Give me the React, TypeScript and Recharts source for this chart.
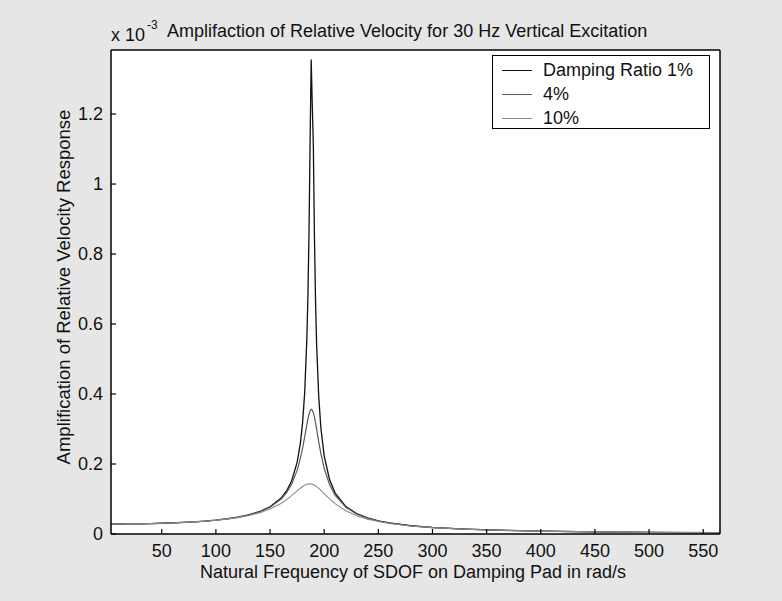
import { LineChart, Line, XAxis, YAxis, Legend, CartesianGrid } from "recharts"

// natural frequency of the SDOF, rad/s
const OMEGA = [
  3.14, 10, 20, 30, 40, 50, 60, 70, 80, 90, 100, 110, 120, 130, 140, 150, 160, 165, 170, 175,
  178, 180, 182, 184, 185, 186, 187, 188, 189, 190, 191, 192, 193, 195, 197, 200, 205, 210,
  220, 230, 240, 250, 260, 280, 300, 330, 360, 400, 450, 500, 565.5,
]

// amplification (x 10^-3) per damping ratio
const RATIO_1 = [
  0.0285, 0.0286, 0.0288, 0.0292, 0.0298, 0.0307, 0.0317, 0.0331, 0.0348, 0.0369, 0.0397,
  0.0432, 0.0479, 0.0544, 0.0636, 0.0777, 0.1018, 0.1216, 0.152, 0.2045, 0.2592, 0.316,
  0.4044, 0.5582, 0.6834, 0.8658, 1.122, 1.356, 1.225, 1.108, 0.8502, 0.6681, 0.5431,
  0.3896, 0.3014, 0.2235, 0.1549, 0.1177, 0.0785, 0.0582, 0.0459, 0.0375, 0.0316, 0.0236,
  0.0186, 0.0138, 0.0108, 0.0081, 0.0061, 0.0047, 0.0036,
]
const RATIO_4 = [
  0.0285, 0.0286, 0.0288, 0.0292, 0.0298, 0.0307, 0.0317, 0.0331, 0.0347, 0.0369, 0.0396,
  0.0431, 0.0478, 0.0541, 0.063, 0.0766, 0.0991, 0.1168, 0.1424, 0.1817, 0.2158, 0.2443,
  0.2774, 0.3124, 0.3287, 0.3425, 0.3521, 0.3564, 0.3545, 0.3467, 0.3339, 0.3178, 0.2997,
  0.2627, 0.229, 0.1879, 0.1408, 0.1109, 0.0762, 0.0572, 0.0453, 0.0372, 0.0314, 0.0235,
  0.0185, 0.0138, 0.0108, 0.0081, 0.0061, 0.0047, 0.0036,
]
const RATIO_10 = [
  0.0285, 0.0286, 0.0288, 0.0292, 0.0298, 0.0306, 0.0316, 0.0329, 0.0346, 0.0366, 0.0392,
  0.0426, 0.0469, 0.0526, 0.0603, 0.0713, 0.0871, 0.0976, 0.1098, 0.1232, 0.1309, 0.1355,
  0.1393, 0.1419, 0.1427, 0.1432, 0.1432, 0.1428, 0.1421, 0.1409, 0.1394, 0.1376, 0.1355,
  0.1305, 0.1248, 0.1155, 0.1003, 0.0868, 0.0662, 0.0522, 0.0425, 0.0355, 0.0302, 0.0229,
  0.0182, 0.0136, 0.0107, 0.0081, 0.006, 0.0047, 0.0035,
]

const X_TICKS = [50, 100, 150, 200, 250, 300, 350, 400, 450, 500, 550]
const Y_TICKS = [0, 0.2, 0.4, 0.6, 0.8, 1, 1.2]
const X_DOMAIN = [3.14, 565.5]
const Y_DOMAIN = [0, 1.383]

const SERIES = [
  { key: "r1", name: "Damping Ratio 1%", color: "#111111", width: 1.3 },
  { key: "r4", name: "4%", color: "#5a5a5a", width: 1.2 },
  { key: "r10", name: "10%", color: "#8a8a8a", width: 1.1 },
]

const data = OMEGA.map((w, i) => ({
  w,
  r1: RATIO_1[i],
  r4: RATIO_4[i],
  r10: RATIO_10[i],
}))

const FONT = "'Liberation Sans', Arial, Helvetica, sans-serif"
const tickStyle = { fontSize: 18, fill: "#111", fontFamily: FONT }
const axisLine = { stroke: "#000", strokeWidth: 1.5 }
const tickLine = { stroke: "#000", strokeWidth: 1.2 }

function BoxLegend() {
  return (
    <div
      style={{
        width: 218,
        height: 74,
        border: "1.5px solid #000",
        background: "#fff",
        boxSizing: "border-box",
        padding: "2px 0 0 9px",
        fontFamily: FONT,
        fontSize: 18,
        color: "#111",
      }}
    >
      {SERIES.map((s) => (
        <div key={s.key} style={{ display: "flex", alignItems: "center", height: 24 }}>
          <span style={{ width: 30, borderTop: `1.5px solid ${s.color}`, marginRight: 11 }} />
          <span style={{ lineHeight: "18px" }}>{s.name}</span>
        </div>
      ))}
    </div>
  )
}

export default function App() {
  return (
    <div
      style={{
        position: "absolute",
        left: 0,
        top: 0,
        width: 782,
        height: 601,
        background: "#e6e6e6",
        fontFamily: FONT,
        color: "#111",
      }}
    >
      {/* axes get 1px of room so they render; plot box is 111..720 x 50..534 */}
      <LineChart width={782} height={601} data={data} margin={{ top: 49, right: 61, bottom: 66, left: 110 }}>
        <CartesianGrid xAxisId="b" yAxisId="l" horizontal={false} vertical={false} fill="#fff" />
        <XAxis
          xAxisId="b"
          dataKey="w"
          type="number"
          domain={X_DOMAIN}
          allowDataOverflow
          ticks={X_TICKS}
          height={1}
          tickSize={-5}
          tickMargin={15}
          axisLine={axisLine}
          tickLine={tickLine}
          tick={tickStyle}
        />
        <XAxis
          xAxisId="t"
          orientation="top"
          dataKey="w"
          type="number"
          domain={X_DOMAIN}
          allowDataOverflow
          ticks={X_TICKS}
          height={1}
          tickSize={-5}
          axisLine={axisLine}
          tickLine={tickLine}
          tick={false}
        />
        <YAxis
          yAxisId="l"
          type="number"
          domain={Y_DOMAIN}
          allowDataOverflow
          ticks={Y_TICKS}
          width={1}
          tickSize={-5}
          tickMargin={13}
          axisLine={axisLine}
          tickLine={tickLine}
          tick={tickStyle}
        />
        <YAxis
          yAxisId="r"
          orientation="right"
          type="number"
          domain={Y_DOMAIN}
          allowDataOverflow
          ticks={Y_TICKS}
          width={1}
          tickSize={-5}
          axisLine={axisLine}
          tickLine={tickLine}
          tick={false}
        />
        {SERIES.map((s) => (
          <Line
            key={s.key}
            xAxisId="b"
            yAxisId="l"
            type="linear"
            dataKey={s.key}
            name={s.name}
            stroke={s.color}
            strokeWidth={s.width}
            dot={false}
            isAnimationActive={false}
          />
        ))}
        <Legend
          layout="vertical"
          align="center"
          verticalAlign="middle"
          content={<BoxLegend />}
          wrapperStyle={{ position: "absolute", left: 492, top: 55, width: 218, height: 74 }}
        />
      </LineChart>

      <div style={{ position: "absolute", left: 111, top: 26, fontSize: 18, lineHeight: "18px", whiteSpace: "nowrap" }}>
        x 10
      </div>
      <div style={{ position: "absolute", left: 147, top: 19, fontSize: 12, lineHeight: "12px" }}>-3</div>
      <div style={{ position: "absolute", left: 167, top: 22, fontSize: 18, lineHeight: "18px", whiteSpace: "nowrap" }}>
        Amplifaction of Relative Velocity for 30 Hz Vertical Excitation
      </div>
      <div
        style={{
          position: "absolute",
          left: 413,
          top: 563,
          transform: "translateX(-50%)",
          fontSize: 18,
          lineHeight: "18px",
          whiteSpace: "nowrap",
        }}
      >
        Natural Frequency of SDOF on Damping Pad in rad/s
      </div>
      <div
        style={{
          position: "absolute",
          left: 64,
          top: 287,
          transform: "translate(-50%, -50%) rotate(-90deg)",
          fontSize: 18.5,
          lineHeight: "18px",
          whiteSpace: "nowrap",
        }}
      >
        Amplification of Relative Velocity Response
      </div>
    </div>
  )
}
